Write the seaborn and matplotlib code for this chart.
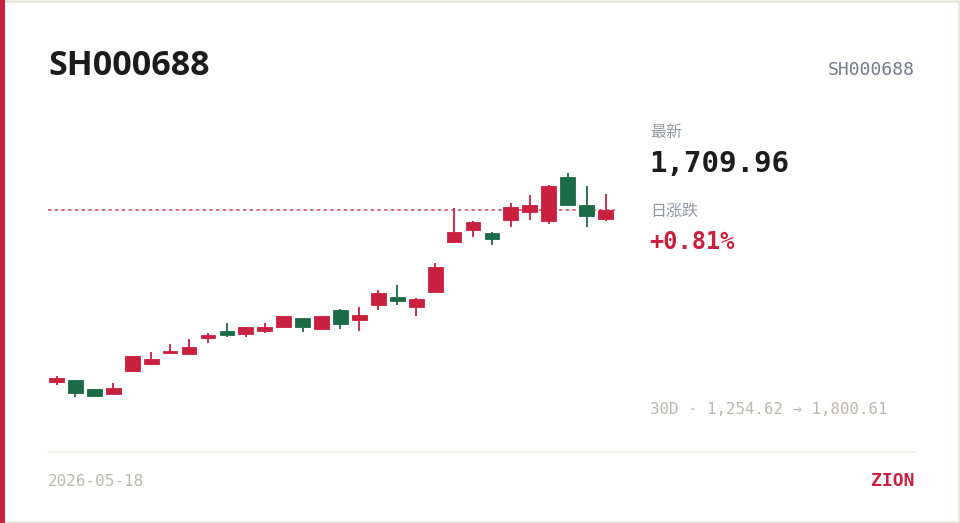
import matplotlib
matplotlib.use("Agg")
import matplotlib.pyplot as plt
import seaborn as sns
import numpy as np
import pandas as pd
from matplotlib.patches import Rectangle

# ---------------- data ----------------
symbol = "SH000688"
date_label = "2026-05-18"
brand = "ZION"
latest_label = "最新"
change_label = "日涨跌"
latest_value = "1,709.96"
change_value = "+0.81%"
range_label = "30D · 1,254.62 → 1,800.61"

opens = [1290.44, 1296.05, 1273.38, 1261.19, 1317.26, 1334.32, 1362.59, 1359.42, 1398.42, 1416.22,
         1407.00, 1414.76, 1425.97, 1447.17, 1421.09, 1466.67, 1442.30, 1478.13, 1497.63, 1473.26,
         1510.55, 1632.42, 1661.67, 1653.63, 1686.05, 1705.55, 1682.88, 1791.59, 1723.34, 1689.22]
highs = [1305.80, 1297.00, 1274.84, 1289.47, 1355.50, 1364.30, 1383.80, 1395.99, 1411.34, 1434.26,
         1425.97, 1435.72, 1452.60, 1447.60, 1452.00, 1468.38, 1474.72, 1515.42, 1527.61, 1495.92,
         1580.51, 1714.57, 1683.61, 1656.80, 1728.22, 1746.99, 1770.40, 1800.61, 1768.92, 1748.69]
lows = [1283.13, 1255.34, 1254.62, 1260.71, 1316.50, 1332.61, 1362.00, 1358.80, 1386.97, 1400.13,
        1401.59, 1411.34, 1425.50, 1413.78, 1420.36, 1419.63, 1416.22, 1466.67, 1479.59, 1452.05,
        1509.90, 1629.99, 1645.34, 1624.38, 1668.26, 1686.05, 1676.30, 1722.00, 1668.26, 1682.88]
closes = [1300.19, 1263.63, 1257.05, 1276.55, 1354.55, 1346.51, 1366.74, 1377.22, 1406.47, 1405.90,
          1424.51, 1425.20, 1452.05, 1426.40, 1451.20, 1432.55, 1455.22, 1508.84, 1487.88, 1494.22,
          1572.22, 1656.80, 1680.44, 1639.01, 1717.01, 1723.34, 1769.66, 1722.60, 1696.22, 1709.96]

RED = "#c8203e"
GREEN = "#1b6b48"
INK = "#1c1c1c"
GRAY = "#9298a2"
BEIGE = "#bdb8ad"

df = pd.DataFrame({"open": opens, "high": highs, "low": lows, "close": closes})
df["i"] = np.arange(len(df))
df["up"] = df["close"] >= df["open"]

sns.set_theme(style="white")
plt.rcParams["font.family"] = ["DejaVu Sans", "Noto Sans CJK SC"]

W, H = 960, 523
fig = plt.figure(figsize=(W / 100, H / 100), dpi=100)
fig.patch.set_facecolor("white")

# card border & accent bar
bg = fig.add_axes([0, 0, 1, 1])
bg.set_xlim(0, W)
bg.set_ylim(H, 0)
bg.axis("off")
bg.add_patch(Rectangle((0.75, 0.75), W - 1.5, H - 1.5, fill=False, ec="#ebe6da", lw=1.8))
bg.add_patch(Rectangle((0, 0), 5, H, fc=RED, ec="none"))
bg.plot([48, 915], [451.5, 451.5], color="#eeebe3", lw=1.2)

# candle axes
ax_left, ax_right = 48, 615
ax_top, ax_bot = 160, 410
ax = fig.add_axes([ax_left / W, (H - ax_bot) / H, (ax_right - ax_left) / W, (ax_bot - ax_top) / H])
ax.set_facecolor("none")

colors = [RED if u else GREEN for u in df["up"]]
ax.vlines(df["i"], df["low"], df["high"], colors=colors, lw=1.3, zorder=2)
body_bottom = np.minimum(df["open"], df["close"])
body_height = np.maximum(np.abs(df["close"] - df["open"]), 1.5)
ax.bar(df["i"], body_height, bottom=body_bottom, width=0.78, color=colors,
       edgecolor=colors, linewidth=0.6, zorder=3)
ax.axhline(closes[-1], color=RED, lw=1.1, ls=(0, (2.2, 2.2)), alpha=0.85, zorder=1)

ax.set_xlim(-0.45, len(df) - 0.5)
ax.set_ylim(1222.92, 1832.3)
ax.set_xticks([])
ax.set_yticks([])
sns.despine(ax=ax, left=True, bottom=True)

# texts (figure pixel coords via bg axes)
bg.text(48, 66, symbol, fontsize=24.5, fontweight="bold", color=INK, family=["Open Sans", "DejaVu Sans"],
        va="center", ha="left")
bg.text(915, 70, symbol, fontsize=13, color="#737a86", family=["DejaVu Sans Mono"],
        va="center", ha="right")
bg.text(650, 133, latest_label, fontsize=11.5, color=GRAY, family=["Noto Sans CJK SC"],
        va="center", ha="left")
bg.text(649, 164, latest_value, fontsize=21, fontweight="bold", color=INK,
        family=["DejaVu Sans Mono"], va="center", ha="left")
bg.text(650, 211, change_label, fontsize=11.5, color=GRAY, family=["Noto Sans CJK SC"],
        va="center", ha="left")
bg.text(649, 242, change_value, fontsize=17, fontweight="bold", color=RED,
        family=["DejaVu Sans Mono"], va="center", ha="left")
bg.text(650, 410, range_label, fontsize=11.3, color=BEIGE, family=["DejaVu Sans Mono"],
        va="center", ha="left")
bg.text(48, 481, date_label, fontsize=11.5, color=BEIGE, family=["DejaVu Sans Mono"],
        va="center", ha="left")
bg.text(914, 481, brand, fontsize=13, fontweight="bold", color=RED, family=["DejaVu Sans Mono"],
        va="center", ha="right")

fig.savefig("out.png", dpi=100, facecolor="white")
